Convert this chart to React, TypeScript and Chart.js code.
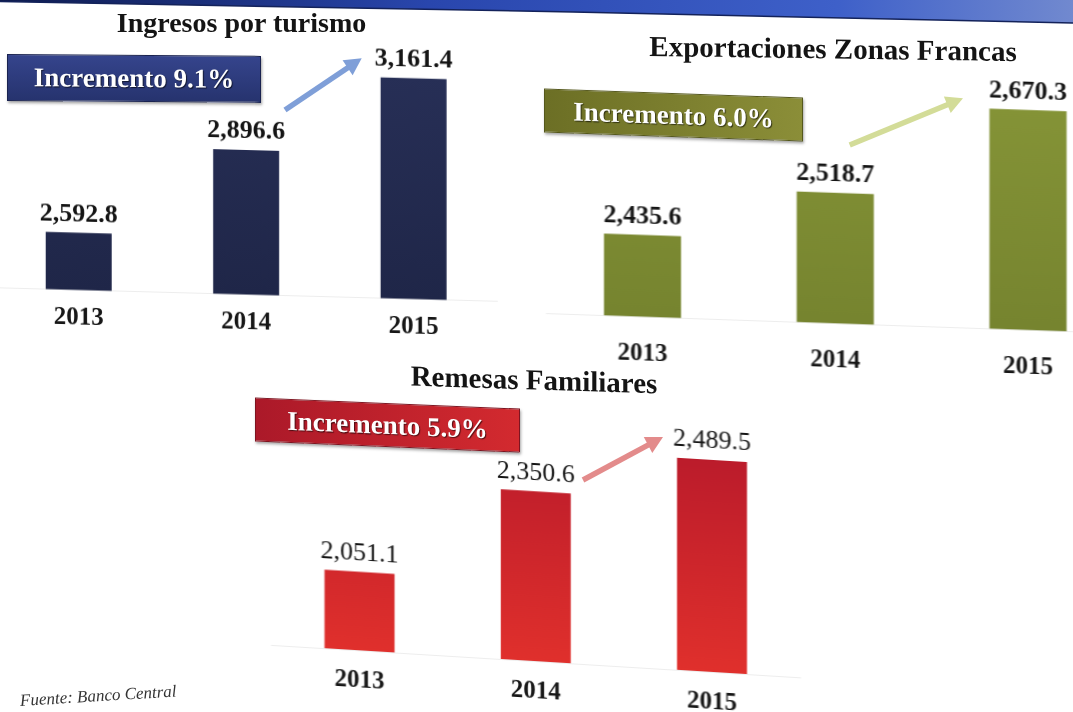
import React, { useEffect, useRef } from "react";
import { Chart, registerables } from "chart.js";

Chart.register(...registerables);

// ---------- data ----------
const years = ["2013", "2014", "2015"];
const turismo = [2592.8, 2896.6, 3161.4];
const zonasFrancas = [2435.6, 2518.7, 2670.3];
const remesas = [2051.1, 2350.6, 2489.5];
const chartTitles = ["Ingresos por turismo", "Exportaciones Zonas Francas", "Remesas Familiares"];
const increments = ["Incremento 9.1%", "Incremento 6.0%", "Incremento 5.9%"];
const sourceNote = "Fuente: Banco Central";

// ---------- layout ----------
const SERIF = '"Liberation Serif", "Times New Roman", Times, serif';
const CANVAS_W = 1180;
const CANVAS_H = 760;
const SHIFT_X = -40;
const TICK_FONT = 25;

type Panel = {
  values: number[];
  colors: [string, string];
  left: number;
  right: number;
  top: number;
  base: number;
  yMin: number;
  yMax: number;
  tickPad: number;
  slope: number;
  originX: number;
  barPct: number;
  labelWeight: string;
};

const panels: Panel[] = [
  {
    values: turismo,
    colors: ["#283058", "#1f2648"],
    left: -5,
    right: 497.5,
    top: 40,
    base: 294.5,
    yMin: 2393.4,
    yMax: 3278.9,
    tickPad: 13.5,
    slope: 0.027,
    originX: 246.2,
    barPct: 0.394,
    labelWeight: "bold",
  },
  {
    values: zonasFrancas,
    colors: ["#879638", "#76842f"],
    left: 546.1,
    right: 1124.4,
    top: 60,
    base: 323.3,
    yMin: 2297,
    yMax: 2743.8,
    tickPad: 22,
    slope: 0.0345,
    originX: 834,
    barPct: 0.4,
    labelWeight: "bold",
  },
  {
    values: remesas,
    colors: ["#b3172b", "#e0302c"],
    left: 271.4,
    right: 800.1,
    top: 400,
    base: 661,
    yMin: 1792.8,
    yMax: 2650.5,
    tickPad: 16,
    slope: 0.0613,
    originX: 534,
    barPct: 0.397,
    labelWeight: "normal",
  },
];

const titleStyles = [
  { x: 241.5, y: 23, size: 28, skew: 0 },
  { x: 833, y: 49, size: 29, skew: 0.8 },
  { x: 534, y: 380, size: 29, skew: 1.8 },
];

const boxStyles = [
  { x: 7, y: 55, w: 254, h: 47, skew: 0.4, bg: "linear-gradient(180deg,#35448c,#26336e)", border: "#1a2350" },
  { x: 544, y: 92.5, w: 259, h: 44, skew: 2.0, bg: "linear-gradient(90deg,#6c6f25,#8b8e38)", border: "#55581c" },
  { x: 255, y: 402.5, w: 265, h: 44, skew: 2.4, bg: "linear-gradient(90deg,#ab1929,#d32a2f)", border: "#7e1420" },
];

const arrowStyles = [
  { x1: 285, y1: 110, x2: 361.7, y2: 58.3, color: "#7f9fd8" },
  { x1: 849.7, y1: 145, x2: 963, y2: 98.3, color: "#d3dc98" },
  { x1: 583, y1: 480, x2: 663, y2: 437, color: "#e38b8b" },
];

const fmt = (v: number) =>
  v.toLocaleString("en-US", { minimumFractionDigits: 1, maximumFractionDigits: 1 });

const valueLabels = {
  id: "valueLabels",
  afterDatasetsDraw(chart: any, _args: any, opts: any) {
    const ctx = chart.ctx as CanvasRenderingContext2D;
    const meta = chart.getDatasetMeta(0);
    const data = chart.data.datasets[0].data as number[];
    ctx.save();
    ctx.font = `${opts.weight || "bold"} 26px ${SERIF}`;
    ctx.fillStyle = "#141414";
    ctx.textAlign = "center";
    ctx.textBaseline = "alphabetic";
    meta.data.forEach((el: any, i: number) => {
      ctx.fillText(fmt(data[i]), el.x, el.y - 11.5);
    });
    ctx.restore();
  },
};

function BarPanel({ p }: { p: Panel }) {
  const ref = useRef<HTMLCanvasElement | null>(null);
  useEffect(() => {
    const canvas = ref.current;
    if (!canvas) return;
    const axisH = TICK_FONT * 1.2 + 2 * p.tickPad;
    const chart = new Chart(canvas, {
      type: "bar",
      data: {
        labels: years,
        datasets: [
          {
            data: p.values,
            backgroundColor: (c: any) => {
              const ca = c.chart.chartArea;
              if (!ca) return p.colors[0];
              const g = c.chart.ctx.createLinearGradient(0, ca.top, 0, ca.bottom);
              g.addColorStop(0, p.colors[0]);
              g.addColorStop(1, p.colors[1]);
              return g;
            },
            borderWidth: 0,
            barPercentage: p.barPct,
            categoryPercentage: 1,
          },
        ],
      },
      options: {
        responsive: false,
        animation: false,
        devicePixelRatio: 1,
        events: [],
        layout: {
          padding: {
            left: p.left - SHIFT_X,
            right: CANVAS_W - (p.right - SHIFT_X),
            top: p.top,
            bottom: CANVAS_H - p.base - axisH,
          },
        },
        plugins: {
          legend: { display: false },
          tooltip: { enabled: false },
          title: { display: false },
          valueLabels: { weight: p.labelWeight },
        } as any,
        scales: {
          x: {
            grid: { display: false, drawTicks: false },
            border: { display: true, color: "#ededed", width: 1 },
            ticks: {
              color: "#161616",
              padding: p.tickPad,
              font: { family: SERIF, size: TICK_FONT, weight: "bold" },
            },
          },
          y: { display: false, min: p.yMin, max: p.yMax },
        },
      },
      plugins: [valueLabels as any],
    });
    return () => chart.destroy();
  }, []);
  const angle = (Math.atan(p.slope) * 180) / Math.PI;
  return (
    <canvas
      ref={ref}
      width={CANVAS_W}
      height={CANVAS_H}
      style={{
        position: "absolute",
        left: SHIFT_X,
        top: 0,
        width: CANVAS_W,
        height: CANVAS_H,
        transform: `skewY(${angle}deg)`,
        transformOrigin: `${p.originX - SHIFT_X}px ${p.base}px`,
      }}
    />
  );
}

function Arrow({ a }: { a: (typeof arrowStyles)[number] }) {
  const dx = a.x2 - a.x1;
  const dy = a.y2 - a.y1;
  const len = Math.hypot(dx, dy);
  const ux = dx / len;
  const uy = dy / len;
  const hl = 17;
  const hw = 9;
  const bx = a.x2 - ux * hl;
  const by = a.y2 - uy * hl;
  const nx = -uy;
  const ny = ux;
  return (
    <g>
      <line x1={a.x1} y1={a.y1} x2={bx + ux * 2} y2={by + uy * 2} stroke={a.color} strokeWidth={5.5} />
      <polygon
        points={`${a.x2},${a.y2} ${bx + nx * hw},${by + ny * hw} ${bx - nx * hw},${by - ny * hw}`}
        fill={a.color}
      />
    </g>
  );
}

export default function App() {
  return (
    <div
      style={{
        position: "fixed",
        left: 0,
        top: 0,
        width: 1073,
        height: 712,
        overflow: "hidden",
        background: "#ffffff",
        fontFamily: SERIF,
      }}
    >
      <svg width={1073} height={30} style={{ position: "absolute", left: 0, top: 0 }}>
        <defs>
          <linearGradient id="banner" x1="0" x2="1" y1="0" y2="0">
            <stop offset="0" stopColor="#0e1b4e" />
            <stop offset="0.4" stopColor="#2946ad" />
            <stop offset="0.78" stopColor="#3e60c9" />
            <stop offset="1" stopColor="#7189cf" />
          </linearGradient>
        </defs>
        <polygon points="0,0 1073,0 1073,23 573,12 0,1.5" fill="url(#banner)" />
        <polyline points="0,1.5 573,12 1073,23" stroke="#13225a" strokeWidth={1.5} fill="none" />
      </svg>

      {panels.map((p, i) => (
        <BarPanel key={i} p={p} />
      ))}

      <svg width={1073} height={712} style={{ position: "absolute", left: 0, top: 0 }}>
        {arrowStyles.map((a, i) => (
          <Arrow key={i} a={a} />
        ))}
      </svg>

      {chartTitles.map((t, i) => {
        const s = titleStyles[i];
        return (
          <div
            key={t}
            style={{
              position: "absolute",
              left: s.x,
              top: s.y,
              transform: `translate(-50%, -50%) skewY(${s.skew}deg)`,
              whiteSpace: "nowrap",
              font: `bold ${s.size}px ${SERIF}`,
              lineHeight: 1,
              color: "#141414",
            }}
          >
            {t}
          </div>
        );
      })}

      {increments.map((t, i) => {
        const b = boxStyles[i];
        return (
          <div
            key={t}
            style={{
              position: "absolute",
              left: b.x,
              top: b.y,
              width: b.w,
              height: b.h,
              boxSizing: "border-box",
              background: b.bg,
              border: `1px solid ${b.border}`,
              boxShadow: "1px 2px 3px rgba(0,0,0,0.35)",
              transform: `skewY(${b.skew}deg)`,
              display: "flex",
              alignItems: "center",
              justifyContent: "center",
              color: "#ffffff",
              font: `bold 27px ${SERIF}`,
              textShadow: "1px 1px 1px rgba(0,0,0,0.6)",
              whiteSpace: "nowrap",
            }}
          >
            {t}
          </div>
        );
      })}

      <div
        style={{
          position: "absolute",
          left: 20,
          top: 691,
          transform: "rotate(-3.5deg)",
          transformOrigin: "0 50%",
          font: `italic 17px ${SERIF}`,
          color: "#333333",
          whiteSpace: "nowrap",
        }}
      >
        {sourceNote}
      </div>
    </div>
  );
}
